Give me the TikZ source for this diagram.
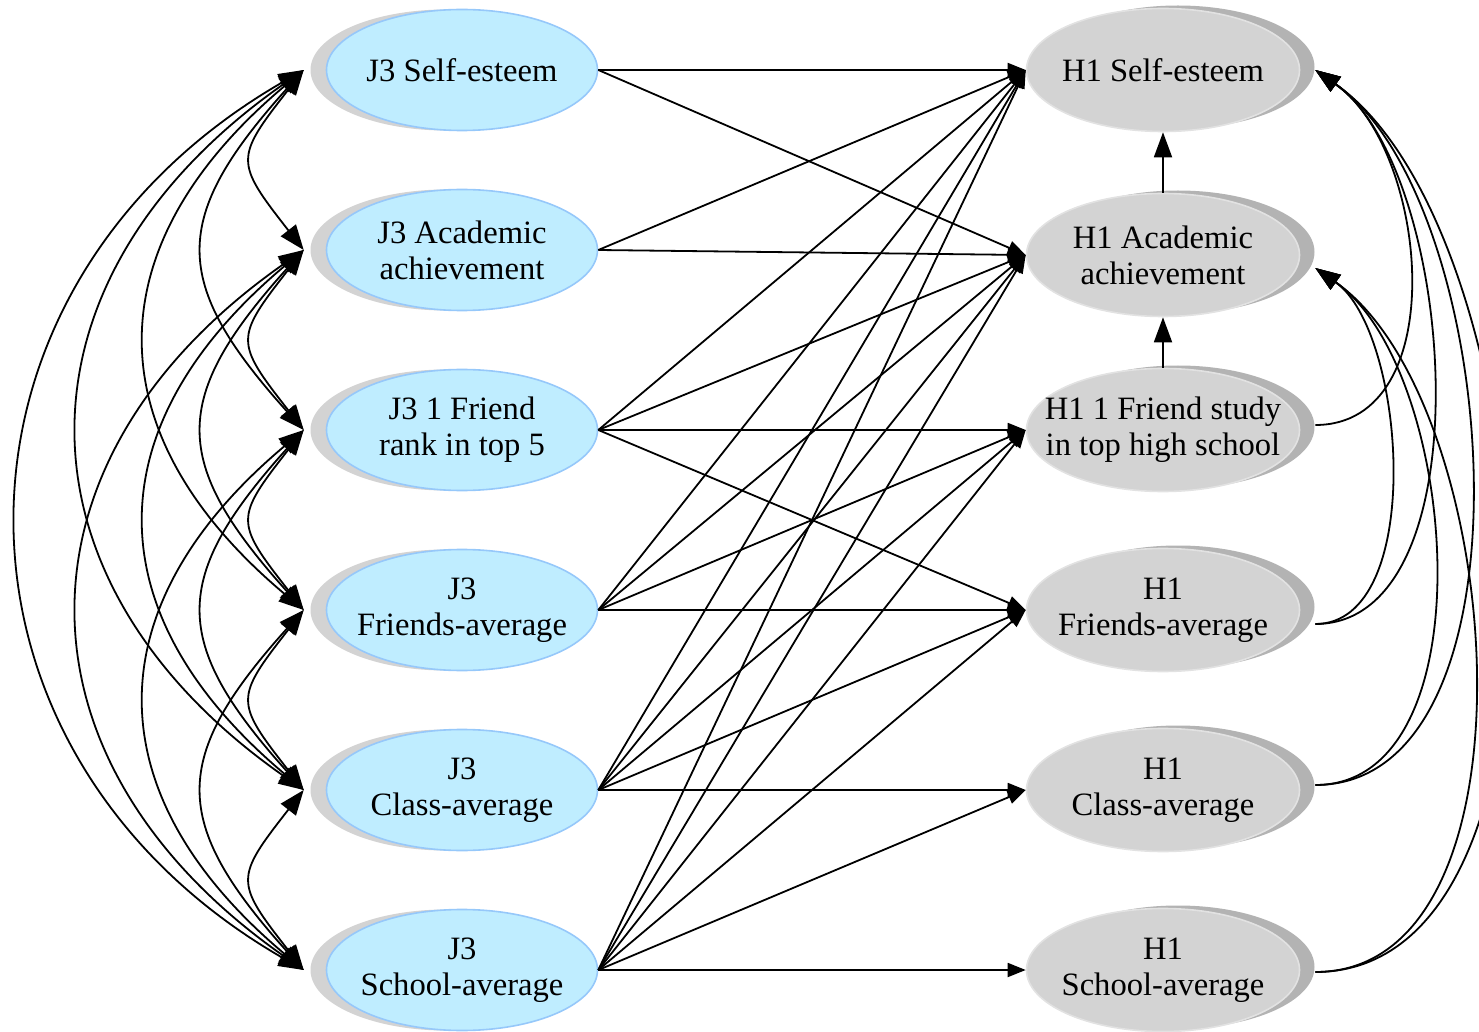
\documentclass[tikz,border=0pt]{standalone}
\usepackage{fontspec}
\setmainfont{Liberation Serif}
\usetikzlibrary{shapes.geometric,shadows,arrows.meta}

\definecolor{jfill}{RGB}{191,237,255}
\definecolor{jline}{RGB}{150,200,250}
\definecolor{jshade}{RGB}{211,211,211}
\definecolor{hfill}{RGB}{211,211,211}
\definecolor{hline}{RGB}{226,226,226}
\definecolor{hshade}{RGB}{179,179,179}

\tikzset{
  jvar/.style={ellipse, draw=jline, line width=0.8pt, fill=jfill, inner sep=0pt,
    minimum width=135.5pt, minimum height=60.5pt,
    drop shadow={shadow xshift=-8pt, shadow yshift=0pt, fill=jshade, opacity=1}},
  hvar/.style={ellipse, draw=hline, line width=0.8pt, fill=hfill, inner sep=0pt,
    minimum width=136.5pt, minimum height=61.5pt,
    drop shadow={shadow xshift=7.5pt, shadow yshift=1.5pt, fill=hshade, opacity=1}},
  vtext/.style={align=center, font=\fontsize{16.3}{18}\selectfont},
  reg/.style={-{Triangle[length=9pt,width=7pt]}, line width=0.9pt},
  bigreg/.style={-{Triangle[length=12.5pt,width=9pt]}, line width=0.9pt},
  cov/.style={{Triangle[length=12.5pt,width=9.5pt]}-{Triangle[length=12.5pt,width=9.5pt]}, line width=0.9pt},
}

\begin{document}
\begin{tikzpicture}[x=0.5pt, y=0.5pt]
\useasboundingbox (0,0) rectangle (1479,-1032);
\clip (0,0) rectangle (1479,-1032);

% J3 variables
\node[jvar, label={[vtext]center:J3 Self-esteem}] (j1) at (462,-70) {};
\node[jvar, label={[vtext]center:{J3 Academic\\achievement}}] (j2) at (462,-250) {};
\node[jvar, label={[vtext]center:{J3 1 Friend\\rank in top 5}}] (j3) at (462,-430) {};
\node[jvar, label={[vtext]center:{J3\\Friends-average}}] (j4) at (462,-610) {};
\node[jvar, label={[vtext]center:{J3\\Class-average}}] (j5) at (462,-790) {};
\node[jvar, label={[vtext]center:{J3\\School-average}}] (j6) at (462,-970) {};

% H1 variables
\node[hvar, label={[vtext]center:H1 Self-esteem}] (h1) at (1163,-70) {};
\node[hvar, label={[vtext]center:{H1 Academic\\achievement}}] (h2) at (1163,-255) {};
\node[hvar, label={[vtext]center:{H1 1 Friend study\\in top high school}}] (h3) at (1163,-430) {};
\node[hvar, label={[vtext]center:{H1\\Friends-average}}] (h4) at (1163,-610) {};
\node[hvar, label={[vtext]center:{H1\\Class-average}}] (h5) at (1163,-790) {};
\node[hvar, label={[vtext]center:{H1\\School-average}}] (h6) at (1163,-970) {};

% ends of the curved arrows, just off the shadows
\coordinate (cl1) at ([xshift=-11pt]j1.west);
\coordinate (cl2) at ([xshift=-11pt]j2.west);
\coordinate (cl3) at ([xshift=-11pt]j3.west);
\coordinate (cl4) at ([xshift=-11pt]j4.west);
\coordinate (cl5) at ([xshift=-11pt]j5.west);
\coordinate (cl6) at ([xshift=-11pt]j6.west);
\coordinate (cr1) at ([xshift=7.5pt]h1.east);
\coordinate (cr2) at ([shift={(7.5pt,-6.5pt)}]h2.east);
\coordinate (cr3) at ([shift={(7.5pt,2.5pt)}]h3.east);
\coordinate (cr4) at ([shift={(7.5pt,-7pt)}]h4.east);
\coordinate (cr5) at ([shift={(7.5pt,2.5pt)}]h5.east);
\coordinate (cr6) at ([shift={(7.5pt,-1pt)}]h6.east);

% covariances
\draw[cov] (cl1) to[out=232, in=128, looseness=1.6] (cl2);
\draw[cov] (cl1) to[out=228, in=132, looseness=1.42] (cl3);
\draw[cov] (cl1) to[out=220, in=140, looseness=1.3] (cl4);
\draw[cov] (cl1) to[out=215, in=145, looseness=1.3] (cl5);
\draw[cov] (cl1) to[out=210, in=150, looseness=1.25] (cl6);
\draw[cov] (cl2) to[out=232, in=128, looseness=1.6] (cl3);
\draw[cov] (cl2) to[out=228, in=132, looseness=1.42] (cl4);
\draw[cov] (cl2) to[out=220, in=140, looseness=1.3] (cl5);
\draw[cov] (cl2) to[out=215, in=145, looseness=1.3] (cl6);
\draw[cov] (cl3) to[out=232, in=128, looseness=1.6] (cl4);
\draw[cov] (cl3) to[out=228, in=132, looseness=1.42] (cl5);
\draw[cov] (cl3) to[out=220, in=140, looseness=1.3] (cl6);
\draw[cov] (cl4) to[out=232, in=128, looseness=1.6] (cl5);
\draw[cov] (cl4) to[out=228, in=132, looseness=1.42] (cl6);
\draw[cov] (cl5) to[out=232, in=128, looseness=1.6] (cl6);

% paths J3 -> H1
\draw[reg] (j1.east) -- (h1.west);
\draw[reg] (j1.east) -- (h2.west);
\draw[reg] (j2.east) -- (h1.west);
\draw[reg] (j2.east) -- (h2.west);
\draw[reg] (j3.east) -- (h1.west);
\draw[reg] (j3.east) -- (h2.west);
\draw[reg] (j3.east) -- (h3.west);
\draw[reg] (j3.east) -- (h4.west);
\draw[reg] (j4.east) -- (h1.west);
\draw[reg] (j4.east) -- (h2.west);
\draw[reg] (j4.east) -- (h3.west);
\draw[reg] (j4.east) -- (h4.west);
\draw[reg] (j5.east) -- (h1.west);
\draw[reg] (j5.east) -- (h2.west);
\draw[reg] (j5.east) -- (h3.west);
\draw[reg] (j5.east) -- (h4.west);
\draw[reg] (j5.east) -- (h5.west);
\draw[reg] (j6.east) -- (h1.west);
\draw[reg] (j6.east) -- (h2.west);
\draw[reg] (j6.east) -- (h3.west);
\draw[reg] (j6.east) -- (h4.west);
\draw[reg] (j6.east) -- (h5.west);
\draw[reg] (j6.east) -- (h6.west);

% paths among H1
\draw[bigreg] (h2.north) -- (h1.south);
\draw[bigreg] (h3.north) -- (h2.south);
\draw[bigreg] (cr3) to[out=0, in=-35, looseness=1.0] (cr1);
\draw[bigreg] (cr4) to[out=0, in=-35, looseness=0.8] (cr1);
\draw[bigreg] (cr4) to[out=0, in=-35, looseness=0.8] (cr2);
\draw[bigreg] (cr5) to[out=0, in=-35, looseness=0.82] (cr1);
\draw[bigreg] (cr5) to[out=0, in=-35, looseness=0.87] (cr2);
\draw[bigreg] (cr6) to[out=0, in=-35, looseness=0.8] (cr1);
\draw[bigreg] (cr6) to[out=0, in=-35, looseness=0.85] (cr2);

\end{tikzpicture}
\end{document}
